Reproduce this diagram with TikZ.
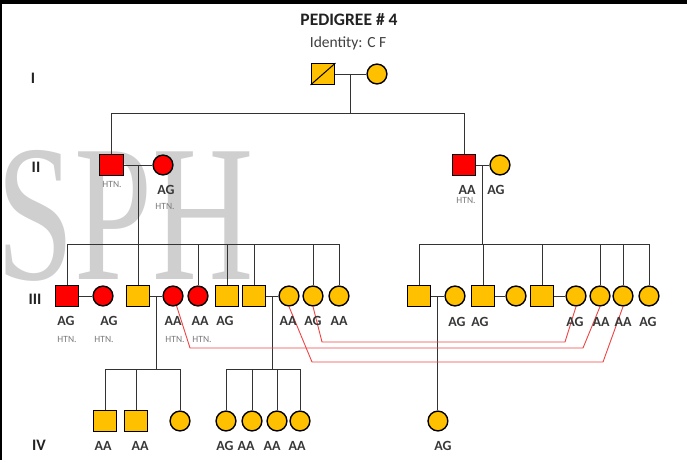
\documentclass[tikz,border=0pt]{standalone}
\usepackage{fontspec}
\usepackage{graphicx}
\setmainfont{Carlito}
\newfontfamily\wmfont{Liberation Serif}
\usetikzlibrary{calc}
\definecolor{aff}{HTML}{FF0000}
\definecolor{unaff}{HTML}{FFC000}
\definecolor{lnc}{HTML}{333333}
\definecolor{rlc}{HTML}{EE4444}
\definecolor{htnc}{HTML}{7A7A7A}
\definecolor{wmc}{HTML}{CFCFCF}
\definecolor{txtc}{HTML}{222222}
\begin{document}
\begin{tikzpicture}[x=1pt,y=-1pt,
  male/.style={rectangle,draw=black,line width=1.4pt,minimum width=23.5pt,minimum height=20.5pt,inner sep=0pt},
  female/.style={circle,draw=black,line width=1.4pt,minimum size=19.8pt,inner sep=0pt},
  af/.style={fill=aff},
  un/.style={fill=unaff},
  ln/.style={draw=lnc,line width=0.9pt},
  rl/.style={draw=rlc,line width=0.9pt},
  gt/.style={anchor=base,inner sep=0pt,text=txtc!90,font=\bfseries\fontsize{14}{16}\selectfont},
  htn/.style={anchor=base,inner sep=0pt,text=htnc,font=\fontsize{9.5}{11}\selectfont},
  gen/.style={anchor=base,inner sep=0pt,text=txtc,font=\bfseries\fontsize{16}{18}\selectfont}]
\useasboundingbox (0,0) rectangle (687,460);
\fill[white] (0,0) rectangle (687,460);
% watermark
\node[anchor=base west,inner sep=0pt,text=wmc] (wm) at (-4,279) {\scalebox{0.72}[1]{\fontsize{195}{195}\selectfont\wmfont SPH}};
% frame
\fill[black] (0,0) rectangle (687,4);
\fill[black] (0,0) rectangle (2,460);
% titles
\node[anchor=base,inner sep=0pt,text=txtc,font=\bfseries\fontsize{17.5}{20}\selectfont] (title) at (349,26) {PEDIGREE \# 4};
\node[anchor=base,inner sep=0pt,text=black!75,font=\fontsize{15.5}{18}\selectfont] (ident) at (348,48) {Identity: C F};
% generation labels
\node[gen] (gI) at (33,83) {I};
\node[gen] (gII) at (36,172) {II};
\node[gen] (gIII) at (35,304) {III};
\node[gen] (gIV) at (39,450) {IV};
% level coordinates
\coordinate (yI) at (0,113);
\coordinate (sibIII) at (0,244);
\coordinate (sibIV) at (0,369);
% Generation I
\node[male,un] (I1) at (323,74) {};
\node[female,un] (I2) at (377,74) {};
\draw[line width=1pt] (I1.south west) -- (I1.north east);
% Generation II
\node[male,af] (II1) at (111.5,165) {};
\node[female,af] (II2) at (163,165) {};
\node[male,af] (II3) at (464,165) {};
\node[female,un] (II4) at (500,165) {};
% Generation III
\node[male,af] (III1) at (67,296) {};
\node[female,af] (III2) at (103,296) {};
\node[male,un] (III3) at (138,296) {};
\node[female,af] (III4) at (173,296) {};
\node[female,af] (III5) at (198,296) {};
\node[male,un] (III6) at (227,296) {};
\node[male,un] (III7) at (254,296) {};
\node[female,un] (III8) at (289,296) {};
\node[female,un] (III9) at (313,296) {};
\node[female,un] (III10) at (339,296) {};
\node[male,un] (III11) at (419,296) {};
\node[female,un] (III12) at (455,296) {};
\node[male,un] (III13) at (483,296) {};
\node[female,un] (III14) at (516,296) {};
\node[male,un] (III15) at (542,296) {};
\node[female,un] (III16) at (576,296) {};
\node[female,un] (III17) at (600,296) {};
\node[female,un] (III18) at (623,296) {};
\node[female,un] (III19) at (649,296) {};
% marriage midpoints
\coordinate (mI) at ($(I1.east)!0.5!(I2.west)$);
\coordinate (mII1) at ($(II1.east)!0.5!(II2.west)$);
\coordinate (mII2) at ($(II3.east)!0.5!(II4.west)$);
\coordinate (mIII1) at ($(III3.east)!0.5!(III4.west)$);
\coordinate (mIII2) at ($(III7.east)!0.5!(III8.west)$);
\coordinate (mIII3) at ($(III11.east)!0.5!(III12.west)$);
% Generation IV
\node[male,un] (IV1) at (105,421) {};
\node[male,un] (IV2) at (136,421) {};
\node[female,un] (IV3) at (180,421) {};
\node[female,un] (IV4) at (226,421) {};
\node[female,un] (IV5) at (252,421) {};
\node[female,un] (IV6) at (277,421) {};
\node[female,un] (IV7) at (300,421) {};
\node[female,un] (IV8) at (mIII3 |- 0,421) {};
% marriage lines
\draw[ln] (I1) -- (I2);
\draw[ln] (II1) -- (II2);
\draw[ln] (II3) -- (II4);
\draw[ln] (III1) -- (III2);
\draw[ln] (III3) -- (III4);
\draw[ln] (III7) -- (III8);
\draw[ln] (III11) -- (III12);
\draw[ln] (III13) -- (III14);
\draw[ln] (III15) -- (III16);
% descent I -> II
\draw[ln] (mI) -- (mI |- yI);
\draw[ln] (II1.north) -- (II1.north |- yI) -- (II3.north |- yI) -- (II3.north);
% descent II -> III
\draw[ln] (mII1) -- (mII1 |- sibIII);
\draw[ln] (III1.north |- sibIII) -- (III10.north |- sibIII);
\foreach \n in {III1,III3,III5,III6,III7,III9,III10}
  \draw[ln] (\n.north) -- (\n.north |- sibIII);
\draw[ln] (mII2) -- (mII2 |- sibIII);
\draw[ln] (III11.north |- sibIII) -- (III19.north |- sibIII);
\foreach \n in {III11,III13,III15,III17,III18,III19}
  \draw[ln] (\n.north) -- (\n.north |- sibIII);
% descent III -> IV
\draw[ln] (mIII1) -- (mIII1 |- sibIV);
\draw[ln] (IV1.north |- sibIV) -- (IV3.north |- sibIV);
\foreach \n in {IV1,IV2,IV3}
  \draw[ln] (\n.north) -- (\n.north |- sibIV);
\draw[ln] (mIII2) -- (mIII2 |- sibIV);
\draw[ln] (IV4.north |- sibIV) -- (IV7.north |- sibIV);
\foreach \n in {IV4,IV5,IV6,IV7}
  \draw[ln] (\n.north) -- (\n.north |- sibIV);
\draw[ln] (mIII3) -- (IV8.north);
% red connectors
\coordinate (r1a) at (190,348);
\coordinate (r1b) at (583,348);
\coordinate (r2a) at (322,342);
\coordinate (r2b) at (565,342);
\coordinate (r3a) at (312,362);
\coordinate (r3b) at (603,362);
\draw[rl] (III4.-70) -- (r1a) -- (r1b) -- (III17.south);
\draw[rl] (III9.south) -- (r2a) -- (r2b) -- (III16.south);
\draw[rl] (III8.south) -- (r3a) -- (r3b) -- (III18.south);
% labels generation II
\node[htn] (tII1) at (112,187) {HTN.};
\node[gt] (gII2) at (166,194) {AG};
\node[htn] (tII2) at (165,209) {HTN.};
\node[gt] (gII3) at (467,194) {AA};
\node[gt] (gII4) at (496,194) {AG};
\node[htn] (tII3) at (466,203) {HTN.};
% labels generation III
\node[gt] (gIII1) at (66,325) {AG};
\node[gt] (gIII2) at (109,325) {AG};
\node[gt] (gIII4) at (173,325) {AA};
\node[gt] (gIII5) at (200,325) {AA};
\node[gt] (gIII6) at (225,325) {AG};
\node[gt] (gIII8) at (288,325) {AA};
\node[gt] (gIII9) at (313,325) {AG};
\node[gt] (gIII10) at (339,325) {AA};
\node[htn] (tIII1) at (67,342) {HTN.};
\node[htn] (tIII2) at (104,342) {HTN.};
\node[htn] (tIII4) at (175,342) {HTN.};
\node[htn] (tIII5) at (202,342) {HTN.};
\node[gt] (gIII12) at (457,326) {AG};
\node[gt] (gIII13) at (480,326) {AG};
\node[gt] (gIII16) at (575,326) {AG};
\node[gt] (gIII17) at (601,326) {AA};
\node[gt] (gIII18) at (623,326) {AA};
\node[gt] (gIII19) at (648,326) {AG};
% labels generation IV
\node[gt] (gIV1) at (103,450) {AA};
\node[gt] (gIV2) at (140,450) {AA};
\node[gt] (gIV4) at (225,450) {AG};
\node[gt] (gIV5) at (246,450) {AA};
\node[gt] (gIV6) at (272,450) {AA};
\node[gt] (gIV7) at (297,450) {AA};
\node[gt] (gIV8) at (443,450) {AG};
\end{tikzpicture}
\end{document}
